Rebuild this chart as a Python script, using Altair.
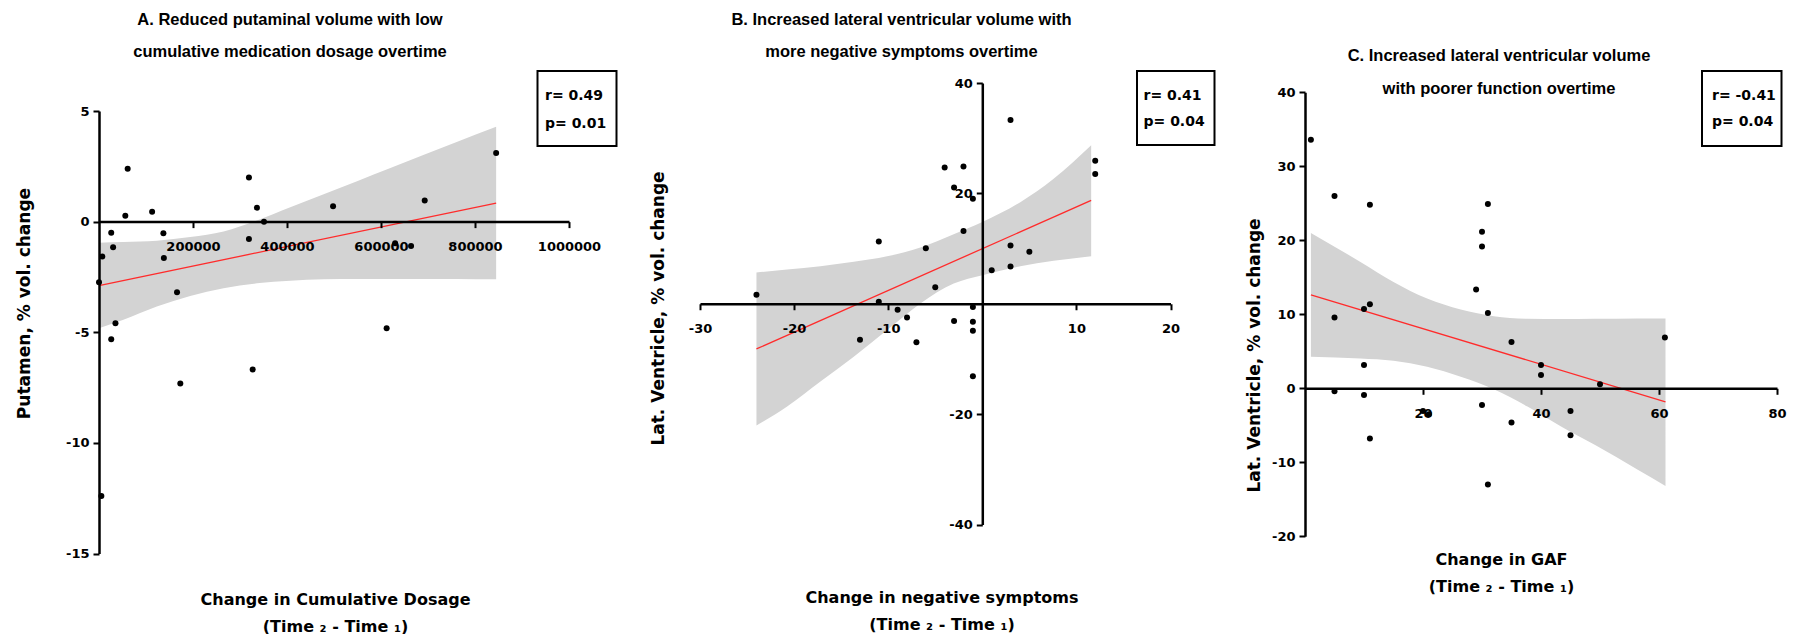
import altair as alt
import pandas as pd

FONT = "DejaVu Sans"
TFONT = "Liberation Sans"

# ---------------- data ----------------
# Panel A: putamen % volume change vs change in cumulative dosage
A_x = [0, 5000, 7000, 26000, 26000, 30000, 35000, 56000, 61000, 113000, 137000, 138000,
       166000, 173000, 319000, 319000, 327000, 336000, 351000, 498000, 612000, 630000,
       664000, 693000, 845000]
A_y = [-2.74, -12.4, -1.58, -0.50, -5.32, -1.16, -4.59, 0.26, 2.39, 0.45, -0.53, -1.64,
       -3.19, -7.32, 2.00, -0.78, -6.68, 0.63, 0.0, 0.69, -4.82, -0.98,
       -1.10, 0.96, 3.10]
A_line_x = [0, 845000]
A_line_y = [-2.89, 0.84]
A_band_x = [0, 52000, 123000, 194000, 265000, 336000, 407000, 478000, 549000, 620000, 690000, 761000, 845000]
A_band_lo = [-4.82, -4.44, -3.84, -3.36, -3.01, -2.79, -2.67, -2.61, -2.59, -2.59, -2.59, -2.59, -2.61]
A_band_hi = [-0.95, -0.92, -0.86, -0.70, -0.45, 0.05, 0.65, 1.24, 1.83, 2.42, 3.01, 3.60, 4.29]

# Panel B: lateral ventricle % volume change vs change in negative symptoms
B_x = [-24, -13, -11, -11, -9, -8, -7, -6, -5, -4, -3, -3, -2, -2, -1, -1, -1, -1, -1,
       1, 3, 3, 3, 5, 12, 12]
B_y = [1.63, -6.51, 11.27, 0.36, -1.08, -2.47, -6.99, 10.06, 3.01, 24.7, 21.08, -3.13,
       24.88, 13.19, 19.04, -0.60, -3.25, -4.88, -13.13, 6.08, 33.28, 10.54, 6.75, 9.40,
       25.9, 23.49]
B_line_x = [-24.0, 11.57]
B_line_y = [-8.19, 18.73]
B_band_x = [-24.0, -20.74, -17.2, -13.66, -10.12, -6.58, -3.04, 0.0, 4.04, 7.58, 11.57]
B_band_lo = [-22.05, -18.6, -14.1, -9.6, -4.76, 0.06, 3.67, 5.18, 6.8, 7.77, 8.6]
B_band_hi = [5.66, 6.2, 6.8, 7.6, 8.6, 10.2, 12.6, 14.8, 18.4, 22.65, 28.7]

# Panel C: lateral ventricle % volume change vs change in GAF
C_x = [1, 5, 5, 5, 10, 10, 10, 11, 11, 11, 20, 21, 29, 30, 30, 30, 31, 31, 31,
       35, 35, 40, 40, 45, 45, 50, 61]
C_y = [33.6, 26.0, 9.57, -0.40, 10.70, 3.15, -0.90, 24.8, 11.37, -6.79, -3.06, -3.51,
       13.35, 21.17, 19.15, -2.25, 24.9, 10.16, -13.0, 6.25, -4.63, 3.15, 1.80, -3.06,
       -6.34, 0.54, 6.88]
C_line_x = [1, 61.1]
C_line_y = [12.63, -1.84]
C_band_x = [1, 9.4, 15.0, 20.7, 26.4, 32.0, 37.7, 43.4, 49.1, 56.4, 61.1]
C_band_lo = [4.27, 4.04, 3.73, 2.92, 1.57, -0.13, -2.47, -5.17, -7.64, -11.0, -13.2]
C_band_hi = [20.99, 17.08, 14.38, 12.13, 10.65, 9.75, 9.39, 9.35, 9.39, 9.44, 9.44]

# texts
A_title = ["A. Reduced putaminal volume with low", "cumulative medication dosage overtime"]
B_title = ["B. Increased lateral ventricular volume with", "more negative symptoms overtime"]
C_title = ["C. Increased lateral ventricular volume", "with poorer function overtime"]
A_xtitle = ["Change in Cumulative Dosage", "(Time \u2082 - Time \u2081)"]
B_xtitle = ["Change in negative symptoms", "(Time \u2082 - Time \u2081)"]
C_xtitle = ["Change in GAF", "(Time \u2082 - Time \u2081)"]
A_ytitle = "Putamen, % vol. change"
B_ytitle = "Lat. Ventricle, % vol. change"
C_ytitle = "Lat. Ventricle, % vol. change"
A_stats = ["r= 0.49", "p= 0.01"]
B_stats = ["r= 0.41", "p= 0.04"]
C_stats = ["r= -0.41", "p= 0.04"]

# tick values
A_xticks = [200000, 400000, 600000, 800000, 1000000]
A_yticks = [5, 0, -5, -10, -15]
B_xticks = [-30, -20, -10, 10, 20]
B_yticks = [40, 20, -20, -40]
C_xticks = [20, 40, 60, 80]
C_yticks = [40, 30, 20, 10, 0, -10, -20]

# ---------------- layout (page pixel coordinates) ----------------
TOP = 86          # page y of every view's top
H = 480           # common view height
MARGIN = 8

AXSTYLE = dict(domainColor="black", domainWidth=2.5, tickColor="black", tickWidth=2,
               tickSize=6, grid=False, labelFont=FONT, labelFontSize=13,
               labelFontWeight="bold", labelColor="black", labelExpr="datum.value + ''",
               labelOverlap=False, labelFlush=False, titleFont=FONT,
               titleFontWeight="bold", titleColor="black", zindex=1)


def panel(cfg):
    left = cfg["left"]
    xr = cfg["xr"]
    ytop = cfg["ytop"] - TOP
    ybot = cfg["ybot"] - TOP
    xd, yd = cfg["xdom"], cfg["ydom"]
    xs = alt.Scale(domain=xd, range=[0, xr], nice=False, zero=False)
    ys = alt.Scale(domain=yd, range=[ybot, ytop], nice=False, zero=False)
    # where the zero lines fall on each scale
    y0 = ytop + (yd[1] - 0) / (yd[1] - yd[0]) * (ybot - ytop)
    x0 = (0 - xd[0]) / (xd[1] - xd[0]) * xr

    xaxis = alt.Axis(values=cfg["xticks"], offset=round(y0 - H, 2), labelPadding=13,
                     title=cfg["xtitle"], titleX=round(cfg["xt_x"] - left, 2),
                     titleY=round(cfg["xt_y"] - (TOP + y0), 2), titleAlign="center",
                     titleBaseline="top", titleAngle=0, titleFontSize=16,
                     titleLineHeight=27, **AXSTYLE)
    yaxis = alt.Axis(values=cfg["yticks"], offset=round(-x0, 2), labelPadding=4,
                     title=cfg["ytitle"], titleX=round(cfg["yt_x"] - (left + x0), 2),
                     titleY=round(cfg["yt_y"] - TOP, 2), titleAngle=270, titleAlign="center",
                     titleBaseline="middle", titleFontSize=17, **AXSTYLE)

    pts = pd.DataFrame({"x": cfg["px"], "y": cfg["py"]})
    band = pd.DataFrame({"x": cfg["bx"], "lo": cfg["blo"], "hi": cfg["bhi"]})
    line = pd.DataFrame({"x": cfg["lx"], "y": cfg["ly"]})
    stats = pd.DataFrame({"r": [cfg["stats"][0]], "p": [cfg["stats"][1]],
                          "t1": [cfg["title"][0]], "t2": [cfg["title"][1]]})

    X = lambda f: alt.X(f, scale=xs, axis=xaxis)
    Y = lambda f: alt.Y(f, scale=ys, axis=yaxis)

    band_l = alt.Chart(band).mark_area(color="#d3d3d3", opacity=1, interpolate="monotone").encode(
        x=X("x:Q"), y=Y("lo:Q"), y2="hi:Q")
    line_l = alt.Chart(line).mark_line(color="#ff2b2b", strokeWidth=1.3).encode(
        x=X("x:Q"), y=Y("y:Q"))
    pts_l = alt.Chart(pts).mark_circle(size=36, color="black", opacity=1).encode(
        x=X("x:Q"), y=Y("y:Q"))

    bx0, bx1, by0, by1 = cfg["box"]
    box_l = alt.Chart(stats).mark_rect(fillOpacity=0, stroke="black", strokeWidth=2).encode(
        x=alt.value(bx0 - left), x2=alt.value(bx1 - left),
        y=alt.value(by0 - TOP), y2=alt.value(by1 - TOP))
    txt = dict(align="left", baseline="middle", font=FONT, fontWeight="bold",
               fontSize=14, color="black")
    r_l = alt.Chart(stats).mark_text(**txt).encode(
        x=alt.value(cfg["stx"] - left), y=alt.value(cfg["sty"][0] - TOP), text="r:N")
    p_l = alt.Chart(stats).mark_text(**txt).encode(
        x=alt.value(cfg["stx"] - left), y=alt.value(cfg["sty"][1] - TOP), text="p:N")

    ttl = dict(align="center", baseline="middle", font=TFONT, fontWeight="bold",
               fontSize=16.5, color="black")
    t1_l = alt.Chart(stats).mark_text(**ttl).encode(
        x=alt.value(cfg["tx"] - left), y=alt.value(cfg["ty"][0] - TOP), text="t1:N")
    t2_l = alt.Chart(stats).mark_text(**ttl).encode(
        x=alt.value(cfg["tx"] - left), y=alt.value(cfg["ty"][1] - TOP), text="t2:N")

    layers = [band_l, line_l, pts_l, box_l, r_l, p_l, t1_l, t2_l]
    if cfg.get("anchor"):
        anchor = alt.Chart(stats).mark_rule(strokeOpacity=0, strokeWidth=0.01).encode(
            x=alt.value(MARGIN - left), x2=alt.value(MARGIN - left),
            y=alt.value(MARGIN - TOP), y2=alt.value(MARGIN - TOP))
        layers.append(anchor)
    return alt.layer(*layers).properties(width=cfg["cell"], height=H)


LEFT_A, LEFT_B, LEFT_C = 99, 699.5, 1304

cfgA = dict(left=LEFT_A, xr=470, ytop=111, ybot=553.5, xdom=[0, 1000000], ydom=[-15, 5],
            xticks=A_xticks, yticks=A_yticks, xtitle=A_xtitle, ytitle=A_ytitle,
            xt_x=335, xt_y=591, yt_x=24.5, yt_y=303,
            px=A_x, py=A_y, bx=A_band_x, blo=A_band_lo, bhi=A_band_hi,
            lx=A_line_x, ly=A_line_y, stats=A_stats, title=A_title,
            box=(537.5, 616.5, 71, 146), stx=545, sty=(96, 124),
            tx=290, ty=(19.5, 51.7), cell=LEFT_B - LEFT_A, anchor=True)
cfgB = dict(left=LEFT_B, xr=470.5, ytop=83, ybot=524.5, xdom=[-30, 20], ydom=[-40, 40],
            xticks=B_xticks, yticks=B_yticks, xtitle=B_xtitle, ytitle=B_ytitle,
            xt_x=941, xt_y=589.7, yt_x=658, yt_y=308,
            px=B_x, py=B_y, bx=B_band_x, blo=B_band_lo, bhi=B_band_hi,
            lx=B_line_x, ly=B_line_y, stats=B_stats, title=B_title,
            box=(1136.5, 1214, 71, 145), stx=1143, sty=(96, 122),
            tx=901, ty=(19.5, 51.7), cell=LEFT_C - LEFT_B)
cfgC = dict(left=LEFT_C, xr=472, ytop=92.3, ybot=536.3, xdom=[0, 80], ydom=[-20, 40],
            xticks=C_xticks, yticks=C_yticks, xtitle=C_xtitle, ytitle=C_ytitle,
            xt_x=1500, xt_y=551, yt_x=1253.6, yt_y=355,
            px=C_x, py=C_y, bx=C_band_x, blo=C_band_lo, bhi=C_band_hi,
            lx=C_line_x, ly=C_line_y, stats=C_stats, title=C_title,
            box=(1701, 1780.5, 71, 146), stx=1711, sty=(96, 122),
            tx=1498, ty=(56, 88.5), cell=472)

chart = alt.hconcat(panel(cfgA), panel(cfgB), panel(cfgC), spacing=0, bounds="flush").properties(
    padding=0, background="white"
).configure_view(stroke=None)

chart.save("out.html", embed_options={"renderer": "svg", "actions": False})
